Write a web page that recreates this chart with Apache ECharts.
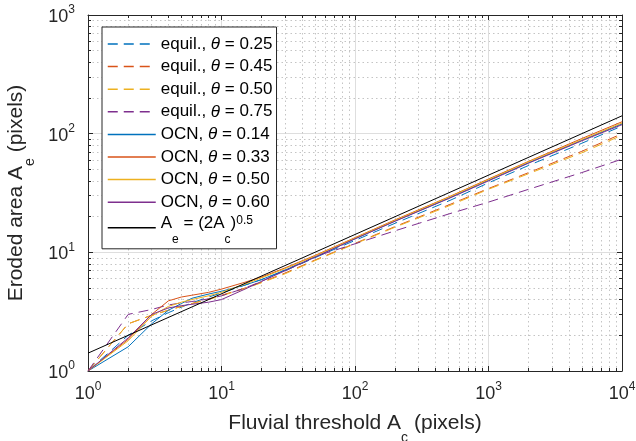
<!DOCTYPE html>
<html>
<head>
<meta charset="utf-8">
<script src="https://cdn.jsdelivr.net/npm/echarts@6/dist/echarts.min.js"></script>
<style>html,body{margin:0;padding:0;background:#fff}#c{width:636px;height:441px}</style>
</head>
<body>
<div id="c"></div>
<script>
// ---- data ----
const acX = [1, 2, 3, 4, 5, 6, 8, 10, 15, 20, 30, 50, 100, 200, 500, 1000, 2000, 5000, 10000];
const equil025 = [1, 2.0, 2.65, 3.1, 3.45, 3.75, 4.2, 4.55, 5.3, 5.9, 7.0, 9.0, 12.6, 17.6, 27, 38.5, 54, 83, 116];
const equil045 = [1, 2.5, 2.95, 3.25, 3.5, 3.7, 4.05, 4.35, 5.0, 5.6, 6.7, 8.6, 11.9, 16.5, 25, 34.5, 47, 71, 100];
const equil050 = [1, 2.5, 2.95, 3.25, 3.5, 3.7, 4.0, 4.3, 4.95, 5.55, 6.6, 8.5, 11.8, 16.3, 24.5, 34, 46, 69, 97];
const equil075 = [1, 3.0, 3.3, 3.6, 3.75, 3.85, 4.05, 4.3, 5.0, 5.7, 7.1, 9.2, 11.8, 15.2, 21, 26.5, 34, 47, 61];
const ocn014 = [1, 1.6, 2.5, 3.25, 3.7, 4.1, 4.45, 4.7, 5.3, 5.9, 7.1, 9.1, 13.0, 18.4, 28.5, 40.5, 57, 88, 121];
const ocn033 = [1, 1.85, 3.0, 3.9, 4.2, 4.35, 4.6, 4.9, 5.6, 6.2, 7.4, 9.4, 13.3, 18.8, 29.2, 41.5, 58.5, 91, 126];
const ocn050 = [1, 1.8, 2.9, 3.5, 3.8, 4.0, 4.3, 4.6, 5.4, 6.1, 7.3, 9.3, 13.2, 18.6, 29, 41, 58, 89, 123];
const ocn060 = [1, 1.9, 3.0, 3.4, 3.55, 3.65, 3.8, 4.0, 4.9, 5.7, 7.0, 9.1, 13.0, 18.3, 28.3, 40, 56.5, 87, 119];
const refX = [1, 10000];
const refY = [1.414, 141.4];
const xRange = [1, 10000];
const yRange = [1, 1000];

const seriesNames = ['equil025', 'equil045', 'equil050', 'equil075', 'ocn014', 'ocn033', 'ocn050', 'ocn060', 'ref'];
const legendLabels = {
  equil025: 'equil., {i|θ} = 0.25',
  equil045: 'equil., {i|θ} = 0.45',
  equil050: 'equil., {i|θ} = 0.50',
  equil075: 'equil., {i|θ} = 0.75',
  ocn014: 'OCN, {i|θ} = 0.14',
  ocn033: 'OCN, {i|θ} = 0.33',
  ocn050: 'OCN, {i|θ} = 0.50',
  ocn060: 'OCN, {i|θ} = 0.60',
  ref: '{m|A}{sub|e}{m| = (2A}{sub|c}{m|)}{sup|0.5}'
};
const colors = ['#0072BD', '#D95319', '#EDB120', '#7E2F8E', '#0072BD', '#D95319', '#EDB120', '#7E2F8E', '#000000'];
const ys = [equil025, equil045, equil050, equil075, ocn014, ocn033, ocn050, ocn060];

const FONT = '"Liberation Sans", Arial, Helvetica, sans-serif';
const AX = '#262626';

function pairs(xs, vs) { return xs.map((x, i) => [x, vs[i]]); }

const series = ys.map((arr, k) => ({
  name: seriesNames[k],
  type: 'line',
  xAxisIndex: 0, yAxisIndex: 0,
  data: pairs(acX, arr),
  symbol: 'none',
  showSymbol: false,
  lineStyle: { color: colors[k], width: 1, type: k < 4 ? [10, 6] : 'solid' },
  itemStyle: { color: colors[k] },
  clip: true
}));
series.push({
  name: 'ref', type: 'line', xAxisIndex: 0, yAxisIndex: 0,
  data: pairs(refX, refY), symbol: 'none', showSymbol: false,
  lineStyle: { color: '#000', width: 1, type: 'solid' }, itemStyle: { color: '#000' }
});

function powLabel(v) {
  const e = Math.round(Math.log10(v));
  return '{b|10}{s|' + e + '}';
}
const tickRich = {
  b: { fontFamily: FONT, fontSize: 18, lineHeight: 22, verticalAlign: 'bottom', color: AX },
  s: { fontFamily: FONT, fontSize: 12, lineHeight: 14, verticalAlign: 'top', color: AX }
};
const nameRich = {
  m: { fontFamily: FONT, fontSize: 21, lineHeight: 24, verticalAlign: 'top', color: AX },
  sub: { fontFamily: FONT, fontSize: 14, lineHeight: 14, padding: [18, 0, 0, 0], verticalAlign: 'top', color: AX }
};

function logAxis(pos, range, showLabel, extra) {
  return Object.assign({
    type: 'log', logBase: 10, position: pos, min: range[0], max: range[1],
    axisLine: { show: true, onZero: false, lineStyle: { color: AX, width: 1 } },
    axisTick: { show: true, inside: true, length: 5, lineStyle: { color: AX, width: 1 } },
    minorTick: { show: true, splitNumber: 9, length: 3, lineStyle: { color: AX, width: 1 } },
    axisLabel: { show: showLabel },
    splitLine: { show: false },
    minorSplitLine: { show: false }
  }, extra || {});
}

const option = {
  animation: false,
  backgroundColor: '#ffffff',
  grid: { left: 88, right: 14, top: 15, bottom: 70, containLabel: false, outerBoundsMode: 'none' },
  xAxis: [
    logAxis('bottom', xRange, true, {
      name: '{m|Fluvial threshold A}{sub|c}{m| (pixels)}',
      nameLocation: 'middle', nameGap: 42,
      nameTextStyle: { rich: nameRich, fontFamily: FONT, fontSize: 21, color: AX },
      axisLabel: { show: true, margin: 10, formatter: powLabel, rich: tickRich },
      splitLine: { show: true, lineStyle: { color: '#dedede', width: 1 } },
      minorSplitLine: { show: true, lineStyle: { color: '#c4c4c4', width: 1, type: [1.5, 3] } }
    }),
    logAxis('top', xRange, false)
  ],
  yAxis: [
    logAxis('left', yRange, true, {
      name: '{m|Eroded area A}{sub|e}{m| (pixels)}',
      nameLocation: 'middle', nameGap: 31, nameRotate: 90,
      nameTextStyle: { rich: nameRich, fontFamily: FONT, fontSize: 21, color: AX },
      axisLabel: { show: true, margin: 13, formatter: powLabel, rich: tickRich },
      splitLine: { show: true, lineStyle: { color: '#dedede', width: 1 } },
      minorSplitLine: { show: true, lineStyle: { color: '#c4c4c4', width: 1, type: [1.5, 3] } }
    }),
    logAxis('right', yRange, false)
  ],
  legend: {
    orient: 'vertical', left: 102, top: 27,
    padding: [7, 4, 3, 5],
    itemWidth: 48, itemHeight: 14, itemGap: 2.6,
    backgroundColor: '#ffffff', borderColor: AX, borderWidth: 1, borderRadius: 0,
    selectedMode: false,
    itemStyle: { opacity: 0 },
    lineStyle: { width: 1.5 },
    data: seriesNames,
    formatter: function (n) { return legendLabels[n]; },
    textStyle: {
      fontFamily: FONT, fontSize: 17, lineHeight: 20, color: '#000',
      rich: {
        i: { fontFamily: FONT, fontSize: 17, lineHeight: 20, fontStyle: 'italic', color: '#000' },
        m: { fontFamily: FONT, fontSize: 17, lineHeight: 26, verticalAlign: 'top', color: '#000' },
        sub: { fontFamily: FONT, fontSize: 12, lineHeight: 12, padding: [19, 0, 0, 0], verticalAlign: 'top', color: '#000' },
        sup: { fontFamily: FONT, fontSize: 12, lineHeight: 24, verticalAlign: 'top', color: '#000' }
      }
    }
  },
  series: series
};

const chart = echarts.init(document.getElementById('c'), null, { renderer: 'canvas' });
chart.setOption(option);
</script>
</body>
</html>
